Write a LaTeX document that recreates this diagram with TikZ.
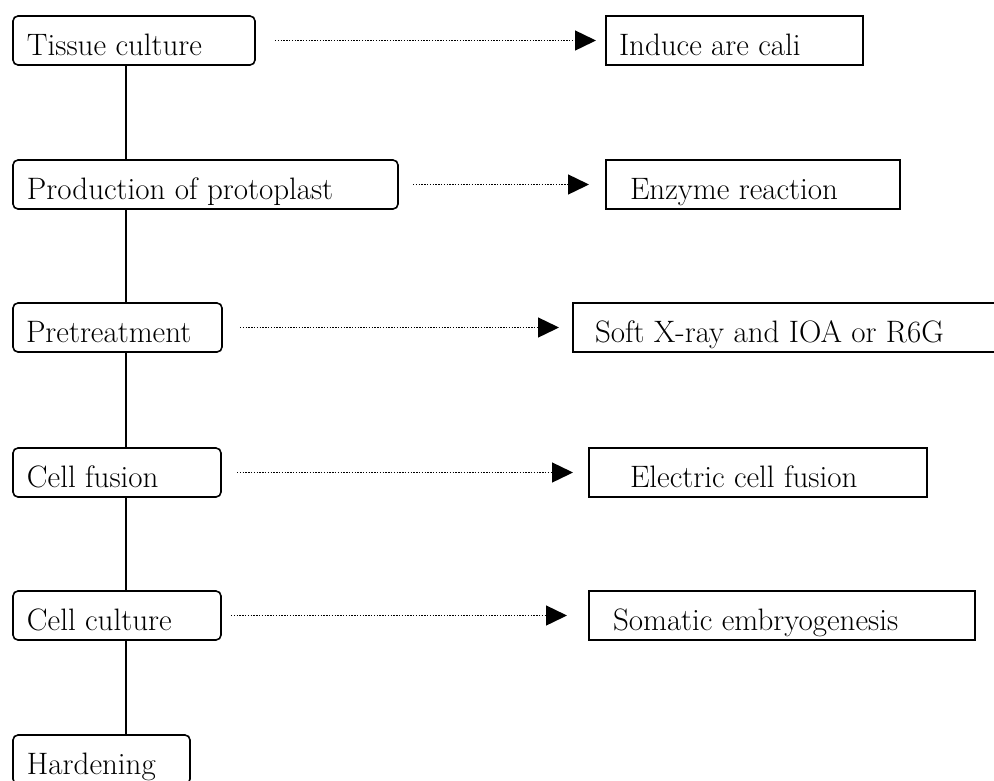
\documentclass[tikz,border=0pt]{standalone}
\usepackage{tikz}
\usetikzlibrary{arrows.meta, positioning}

\begin{document}
\begin{tikzpicture}
	[x=1pt, y=1pt,
	stage/.style={draw, rounded corners=5pt, line width=1.6pt, outer sep=0pt, anchor=north west, minimum height=49pt, text height=29pt, text depth=0pt, inner ysep=10pt, inner xsep=14pt, align=flush left, font=\fontsize{31}{36}\selectfont},
	method/.style={draw, line width=1.6pt, outer sep=0pt, anchor=north west, minimum height=49pt, text height=29pt, text depth=0pt, inner ysep=10pt, align=flush left, font=\fontsize{31}{36}\selectfont},
	flow/.style={line width=1.4pt, dash pattern=on 1.4pt off 1.4pt, -{Triangle[length=21pt, width=20pt]}},
	link/.style={line width=1.6pt}
	]
	\useasboundingbox (0,0) rectangle (994,-780);
	\clip (0,0) rectangle (994,-780);
	
	% Steps
	\node[stage, text width=214pt] (tissue) at (13,-16) {Tissue culture};
	\node[stage, text width=357pt, below=95pt of tissue.south west, anchor=north west] (proto) {Production of protoplast};
	\node[stage, inner xsep=13pt, text width=183pt, below=94pt of proto.south west, anchor=north west] (pre) {Pretreatment};
	\node[stage, text width=180pt, below=96pt of pre.south west, anchor=north west] (fusion) {Cell fusion};
	\node[stage, text width=180pt, below=94pt of fusion.south west, anchor=north west] (culture) {Cell culture};
	\node[stage, text width=149pt, below=95pt of culture.south west, anchor=north west] (harden) {Hardening};
	
	% Methods
	\node[method, inner xsep=13pt, text width=231pt, right=351pt of tissue.north east, anchor=north west] (induce) {Induce are cali};
	\node[method, inner xsep=24pt, text width=246pt, right=208pt of proto.north east, anchor=north west] (enzyme) {Enzyme reaction};
	\node[method, inner xsep=22pt, text width=400pt, right=351pt of pre.north east, anchor=north west] (soft) {Soft X-ray and IOA or R6G};
	\node[method, inner xsep=41pt, text width=256pt, right=368pt of fusion.north east, anchor=north west] (electric) {Electric cell fusion};
	\node[method, inner xsep=24pt, text width=338pt, right=368pt of culture.north east, anchor=north west] (somatic) {Somatic embryogenesis};
	
	% Spine
	\coordinate (spine) at (126,0);
	\draw[link] (tissue.south -| spine) -- (proto.north -| spine);
	\draw[link] (proto.south -| spine) -- (pre.north -| spine);
	\draw[link] (pre.south -| spine) -- (fusion.north -| spine);
	\draw[link] (fusion.south -| spine) -- (culture.north -| spine);
	\draw[link] (culture.south -| spine) -- (harden.north -| spine);
	
	% Arrows
	\draw[flow, shorten <=20pt, shorten >=10pt] (tissue) -- (induce);
	\draw[flow, shorten <=15pt, shorten >=17pt] (proto) -- (enzyme);
	\draw[flow, shorten <=18pt, shorten >=14pt] (pre) -- (soft);
	\draw[flow, shorten <=16pt, shorten >=16pt] (fusion) -- (electric);
	\draw[flow, shorten <=10pt, shorten >=22pt] (culture) -- (somatic);
\end{tikzpicture}
\end{document}
